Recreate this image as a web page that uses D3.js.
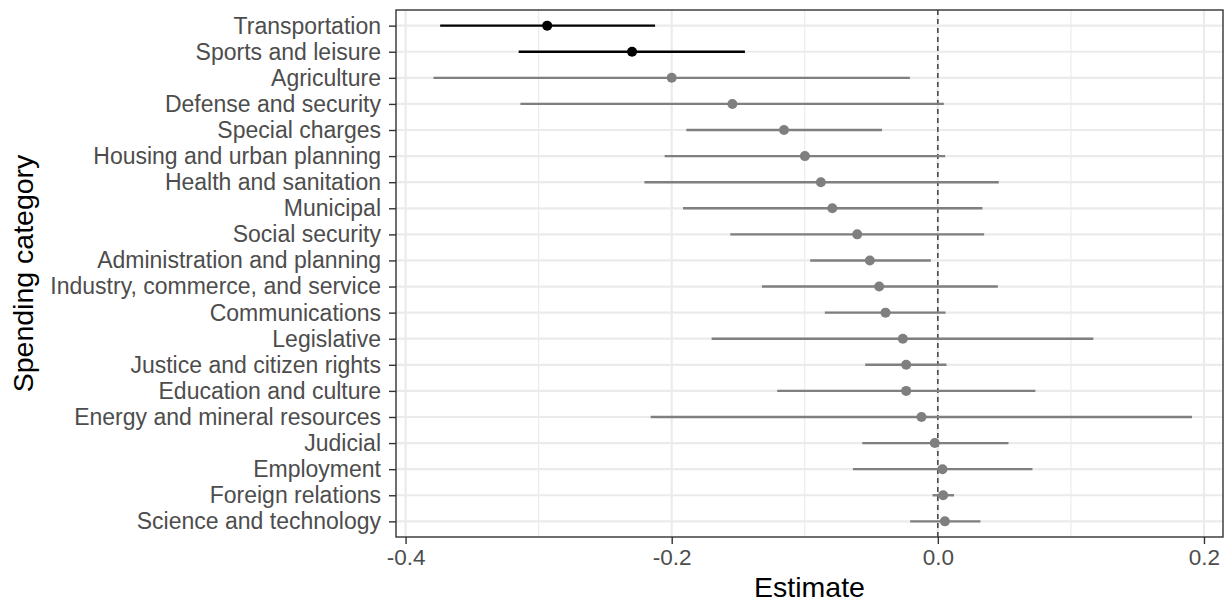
<!DOCTYPE html>
<html>
<head>
<meta charset="utf-8">
<script src="https://cdn.jsdelivr.net/npm/d3@7"></script>
<style>
  html, body { margin: 0; padding: 0; background: #ffffff; }
  svg { display: block; font-family: "Liberation Sans", Arial, sans-serif; }
</style>
</head>
<body>
<svg id="chart" width="1224" height="602"></svg>
<script>
const categories = [
  "Transportation", "Sports and leisure", "Agriculture", "Defense and security",
  "Special charges", "Housing and urban planning", "Health and sanitation", "Municipal",
  "Social security", "Administration and planning", "Industry, commerce, and service",
  "Communications", "Legislative", "Justice and citizen rights", "Education and culture",
  "Energy and mineral resources", "Judicial", "Employment", "Foreign relations",
  "Science and technology"
];
const estimates = [
  -0.2936, -0.2298, -0.2000, -0.1544, -0.1156, -0.0999, -0.0879, -0.0793,
  -0.0606, -0.0511, -0.0441, -0.0393, -0.0263, -0.0238, -0.0238, -0.0123,
  -0.0023, 0.0035, 0.0040, 0.0053
];
const lowerCI = [
  -0.374, -0.315, -0.379, -0.3137, -0.189, -0.2053, -0.2205, -0.1915,
  -0.156, -0.0959, -0.1322, -0.0849, -0.170, -0.0546, -0.1207, -0.2158,
  -0.0568, -0.0638, -0.0040, -0.0208
];
const upperCI = [
  -0.2125, -0.145, -0.021, 0.0045, -0.042, 0.0055, 0.0458, 0.0335,
  0.0348, -0.0053, 0.0451, 0.0058, 0.1169, 0.0065, 0.0733, 0.191,
  0.0531, 0.0711, 0.0122, 0.032
];
const highlighted = [
  true, true, false, false, false, false, false, false, false, false,
  false, false, false, false, false, false, false, false, false, false
];
const xMajorTicks = [-0.4, -0.2, 0.0, 0.2];
const xMinorTicks = [-0.3, -0.1, 0.1];
const xTitle = "Estimate";
const yTitle = "Spending category";

const svg = d3.select("#chart");
const panel = { left: 396, right: 1223, top: 10, bottom: 537 };

const x = d3.scaleLinear().domain([-0.4072, 0.2143]).range([panel.left, panel.right]);
const y = d3.scalePoint().domain(categories).range([panel.top, panel.bottom]).padding(0.6);

svg.append("rect").attr("width", 1224).attr("height", 602).attr("fill", "#ffffff");

const g = svg.append("g");

// grid
g.selectAll(".minor").data(xMinorTicks).join("line")
  .attr("x1", d => x(d)).attr("x2", d => x(d))
  .attr("y1", panel.top).attr("y2", panel.bottom)
  .attr("stroke", "#EBEBEB").attr("stroke-width", 1.1);
g.selectAll(".majorx").data(xMajorTicks).join("line")
  .attr("x1", d => x(d)).attr("x2", d => x(d))
  .attr("y1", panel.top).attr("y2", panel.bottom)
  .attr("stroke", "#EBEBEB").attr("stroke-width", 2.2);
g.selectAll(".majory").data(categories).join("line")
  .attr("x1", panel.left).attr("x2", panel.right)
  .attr("y1", d => y(d)).attr("y2", d => y(d))
  .attr("stroke", "#EBEBEB").attr("stroke-width", 2.2);

// reference line at zero
g.append("line")
  .attr("x1", x(0)).attr("x2", x(0))
  .attr("y1", panel.top).attr("y2", panel.bottom)
  .attr("stroke", "#333333").attr("stroke-width", 1.4)
  .attr("stroke-dasharray", "5,4");

const rows = categories.map((c, i) => ({
  c, est: estimates[i], lo: lowerCI[i], hi: upperCI[i],
  col: highlighted[i] ? "#000000" : "#7F7F7F"
}));

g.selectAll(".ci").data(rows).join("line")
  .attr("x1", d => x(d.lo)).attr("x2", d => x(d.hi))
  .attr("y1", d => y(d.c)).attr("y2", d => y(d.c))
  .attr("stroke", d => d.col).attr("stroke-width", 2.4);

g.selectAll(".pt").data(rows).join("circle")
  .attr("cx", d => x(d.est)).attr("cy", d => y(d.c))
  .attr("r", 5).attr("fill", d => d.col);

// panel border
g.append("rect")
  .attr("x", panel.left).attr("y", panel.top)
  .attr("width", panel.right - panel.left).attr("height", panel.bottom - panel.top)
  .attr("fill", "none").attr("stroke", "#333333").attr("stroke-width", 1.4);

// axes
const xAxis = d3.axisBottom(x).tickValues(xMajorTicks)
  .tickFormat(d3.format(".1f")).tickSize(7).tickPadding(5);
const xa = svg.append("g").attr("transform", `translate(0,${panel.bottom})`).call(xAxis);
xa.select(".domain").remove();
xa.selectAll(".tick line").attr("stroke", "#333333").attr("stroke-width", 1.4);
xa.selectAll(".tick text")
  .text(d => d3.format(".1f")(d).replace("−", "-"))
  .attr("fill", "#4D4D4D").attr("font-size", "22.5px")
  .attr("font-family", "'Liberation Sans', Arial, sans-serif");

const yAxis = d3.axisLeft(y).tickSize(7).tickPadding(8);
const ya = svg.append("g").attr("transform", `translate(${panel.left},0)`).call(yAxis);
ya.select(".domain").remove();
ya.selectAll(".tick line").attr("stroke", "#333333").attr("stroke-width", 1.4);
ya.selectAll(".tick text")
  .attr("fill", "#4D4D4D").attr("font-size", "23px")
  .attr("font-family", "'Liberation Sans', Arial, sans-serif");

// titles
svg.append("text")
  .attr("x", (panel.left + panel.right) / 2).attr("y", 597)
  .attr("text-anchor", "middle").attr("font-size", "28.5px").attr("fill", "#000")
  .text(xTitle);
svg.append("text")
  .attr("transform", `translate(33,${(panel.top + panel.bottom) / 2}) rotate(-90)`)
  .attr("text-anchor", "middle").attr("font-size", "28.5px").attr("fill", "#000")
  .text(yTitle);
</script>
</body>
</html>
